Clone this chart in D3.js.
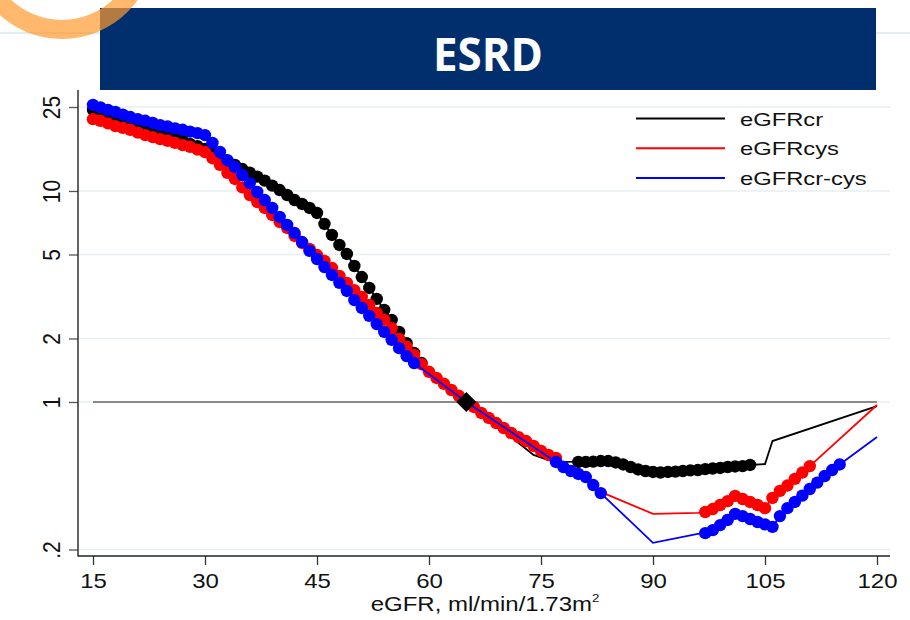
<!DOCTYPE html>
<html>
<head>
<meta charset="utf-8">
<script src="https://cdn.jsdelivr.net/npm/d3@7"></script>
<style>
  body { margin: 0; background: #fff; }
  svg text { font-family: "Liberation Sans", Arial, Helvetica, sans-serif; }
</style>
</head>
<body>
<div id="chart"></div>
<script>

// ---- data ----
var titleText = "ESRD";
var xLabel = "eGFR, ml/min/1.73m";
var seriesNames = ["eGFRcr", "eGFRcys", "eGFRcr-cys"];
var seriesColors = ["#000000", "#ff0000", "#0000ff"];
var xTicks = [15, 30, 45, 60, 75, 90, 105, 120];
var yTicks = [0.2, 1, 2, 5, 10, 25];
var yTickLabels = [".2", "1", "2", "5", "10", "25"];
var refPoint = [65, 1];

// [eGFR, hazard ratio, marker shown (1) or line only (0)]
var crPoints = [
  [15,24.2,1],[16,23.6,1],[17,22.9,1],[18,22.2,1],[19,21.6,1],[20,21.0,1],[21,20.4,1],[22,19.9,1],
  [23,19.2,1],[24,18.7,1],[25,18.2,1],[26,17.7,1],[27,17.3,1],[28,16.7,1],[29,16.3,1],[30,15.8,1],
  [31,15.1,1],[32,14.5,1],[33,13.9,1],[34,13.3,1],[35,12.7,1],[36,12.2,1],[37,11.7,1],[38,11.2,1],
  [39,10.6,1],[40,10.1,1],[41,9.57,1],[42,9.06,1],[43,8.68,1],[44,8.31,1],[45,7.87,1],[46,6.98,1],
  [47,6.19,1],[48,5.55,1],[49,5.03,1],[50,4.41,1],[51,3.91,1],[52,3.47,1],[53,3.08,1],[54,2.73,1],
  [55,2.45,1],[56,2.15,1],[57,1.90,1],[58,1.71,1],[59,1.53,1],
  [62,1.23,0],[65,1.00,0],[68,0.822,0],[70,0.729,0],[72,0.639,0],[74,0.561,0],[76,0.531,0],[78,0.522,0],
  [80,0.520,1],[81,0.520,1],[82,0.522,1],[83,0.525,1],[84,0.525,1],[85,0.517,1],[86,0.506,1],[87,0.492,1],
  [88,0.479,1],[89,0.471,1],[90,0.466,1],[91,0.463,1],[92,0.466,1],[93,0.468,1],[94,0.471,1],[95,0.474,1],
  [96,0.476,1],[97,0.481,1],[98,0.484,1],[99,0.487,1],[100,0.492,1],[101,0.495,1],[102,0.497,1],[103,0.503,1],
  [105,0.508,0],[106,0.653,0],[120,0.957,0]
];

var cysPoints = [
  [15,21.9,1],[16,21.5,1],[17,20.9,1],[18,20.3,1],[19,19.9,1],[20,19.5,1],[21,18.9,1],[22,18.4,1],
  [23,18.0,1],[24,17.6,1],[25,17.3,1],[26,16.9,1],[27,16.5,1],[28,16.2,1],[29,15.7,1],[30,15.3,1],
  [31,14.3,1],[32,13.3,1],[33,12.2,1],[34,11.4,1],[35,10.4,1],[36,9.57,1],[37,8.87,1],[38,8.31,1],
  [39,7.70,1],[40,7.13,1],[41,6.68,1],[42,6.12,1],[43,5.67,1],[44,5.31,1],[45,4.97,1],[46,4.66,1],
  [47,4.32,1],[48,3.96,1],[49,3.67,1],[50,3.39,1],[51,3.15,1],[52,2.88,1],[53,2.64,1],[54,2.45,1],
  [55,2.24,1],[56,1.99,1],[57,1.83,1],[58,1.67,1],[59,1.51,1],[60,1.39,1],[61,1.30,1],[62,1.22,1],
  [63,1.14,1],[64,1.07,1],[65,1.00,1],[66,0.947,1],[67,0.887,1],[68,0.840,1],[69,0.795,1],[70,0.753,1],
  [71,0.713,1],[72,0.682,1],[73,0.653,1],[74,0.619,1],[75,0.586,1],[76,0.561,1],[77,0.543,1],
  [83,0.375,0],[90,0.295,0],[96,0.298,0],
  [97,0.301,1],[98,0.311,1],[99,0.325,1],[100,0.339,1],[101,0.359,1],[102,0.347,1],[103,0.336,1],
  [104,0.325,1],[105,0.314,1],[106,0.351,1],[107,0.379,1],[108,0.402,1],[109,0.432,1],[110,0.463,1],
  [111,0.497,1],
  [120,0.968,0]
];

var crcysPoints = [
  [15,25.6,1],[16,24.9,1],[17,24.2,1],[18,23.7,1],[19,23.0,1],[20,22.4,1],[21,21.9,1],[22,21.5,1],
  [23,21.0,1],[24,20.5,1],[25,20.2,1],[26,19.8,1],[27,19.5,1],[28,19.1,1],[29,18.8,1],[30,18.4,1],
  [31,16.9,1],[32,15.3,1],[33,14.0,1],[34,13.0,1],[35,11.9,1],[36,10.9,1],[37,9.89,1],[38,9.06,1],
  [39,8.31,1],[40,7.53,1],[41,6.90,1],[42,6.32,1],[43,5.73,1],[44,5.20,1],[45,4.76,1],[46,4.36,1],
  [47,4.00,1],[48,3.67,1],[49,3.36,1],[50,3.04,1],[51,2.79,1],[52,2.56,1],[53,2.34,1],[54,2.15,1],
  [55,1.97,1],[56,1.80,1],[57,1.65,1],[58,1.53,1],
  [65,1.00,0],
  [77,0.520,1],[78,0.492,1],[79,0.471,1],[80,0.456,1],[81,0.441,1],[82,0.404,1],[83,0.370,1],
  [90,0.215,0],[96,0.237,0],
  [97,0.239,1],[98,0.247,1],[99,0.261,1],[100,0.276,1],[101,0.295,1],[102,0.288,1],[103,0.279,1],
  [104,0.270,1],[105,0.263,1],[106,0.256,1],[107,0.288,1],[108,0.314,1],[109,0.336,1],[110,0.360,1],
  [111,0.387,1],[112,0.415,1],[113,0.446,1],[114,0.476,1],[115,0.506,1],
  [120,0.682,0]
];

var allSeries = [crPoints, cysPoints, crcysPoints];

// ---- layout ----
var W = 910, H = 620;
var axisX = 78, axisY = 556;

var svg = d3.select("#chart").append("svg")
    .attr("width", W)
    .attr("height", H);

var x = d3.scaleLinear().domain([15, 120]).range([93, 877]);
var y = d3.scaleLog().domain([0.2, 25]).range([549.5, 107]);

// slide decoration + title banner
svg.append("line")
    .attr("x1", 0).attr("x2", W).attr("y1", 33).attr("y2", 33)
    .attr("stroke", "#e1edef").attr("stroke-width", 2);

svg.append("rect")
    .attr("x", 100).attr("y", 8)
    .attr("width", 776).attr("height", 82)
    .attr("fill", "#012f6e");

svg.append("text")
    .attr("x", 488).attr("y", 71)
    .attr("text-anchor", "middle")
    .attr("fill", "#fff")
    .style("font-family", "'Open Sans', 'Noto Sans', sans-serif")
    .style("font-weight", "bold")
    .style("font-size", "47px")
    .attr("textLength", 110)
    .attr("lengthAdjust", "spacingAndGlyphs")
    .text(titleText);

var ring = d3.arc().innerRadius(74).outerRadius(93).startAngle(0).endAngle(2 * Math.PI);
svg.append("path")
    .attr("d", ring())
    .attr("transform", "translate(62,-54)")
    .attr("fill", "#ff9a2e")
    .attr("opacity", 0.7);

// grid lines
svg.append("g").selectAll("line")
    .data(yTicks)
  .enter().append("line")
    .attr("x1", axisX + 1).attr("x2", 890)
    .attr("y1", function (d) { return y(d); })
    .attr("y2", function (d) { return y(d); })
    .attr("stroke", "#e7eef1")
    .attr("stroke-width", 1.5);

// reference line at HR = 1
svg.append("line")
    .attr("x1", x(15)).attr("x2", x(120))
    .attr("y1", y(1)).attr("y2", y(1))
    .attr("stroke", "#8a8a8a")
    .attr("stroke-width", 2);

// series
var line = d3.line()
    .x(function (d) { return x(d[0]); })
    .y(function (d) { return y(d[1]); });

allSeries.forEach(function (pts, i) {
  var g = svg.append("g");
  g.append("path")
      .datum(pts)
      .attr("d", line)
      .attr("fill", "none")
      .attr("stroke", seriesColors[i])
      .attr("stroke-width", 1.8);
  g.selectAll("circle")
      .data(pts.filter(function (d) { return d[2] === 1; }))
    .enter().append("circle")
      .attr("cx", function (d) { return x(d[0]); })
      .attr("cy", function (d) { return y(d[1]); })
      .attr("r", 6.2)
      .attr("fill", seriesColors[i]);
});

// reference diamond
svg.append("path")
    .attr("d", d3.symbol(d3.symbolSquare, 200)())
    .attr("transform", "translate(" + x(refPoint[0]) + "," + y(refPoint[1]) + ") rotate(45)")
    .attr("fill", "#000");

// axes
var xAxis = d3.axisBottom(x).tickValues(xTicks).tickSize(9).tickSizeOuter(0);
var gx = svg.append("g")
    .attr("transform", "translate(0," + axisY + ")")
    .call(xAxis);
gx.select(".domain").remove();
gx.selectAll(".tick line").attr("stroke", "#333").attr("stroke-width", 1.3);
gx.selectAll(".tick text")
    .attr("y", 32).attr("dy", null)
    .attr("fill", "#111")
    .style("font-size", "20px")
    .attr("transform", "scale(1.2,1)");

var yAxis = d3.axisLeft(y)
    .tickValues(yTicks)
    .tickFormat(function (d) { return yTickLabels[yTicks.indexOf(d)]; })
    .tickSize(9).tickSizeOuter(0);
var gy = svg.append("g")
    .attr("transform", "translate(" + axisX + ",0)")
    .call(yAxis);
gy.select(".domain").remove();
gy.selectAll(".tick line").attr("stroke", "#555").attr("stroke-width", 1.3);
gy.selectAll(".tick text")
    .attr("x", 0).attr("dy", null)
    .attr("text-anchor", "middle")
    .attr("fill", "#111")
    .style("font-size", "21px")
    .attr("transform", "translate(-18,0) rotate(-90) scale(1,1.1)");

svg.append("line")
    .attr("x1", axisX).attr("x2", axisX).attr("y1", 90).attr("y2", axisY + 0.5)
    .attr("stroke", "#222").attr("stroke-width", 1.4);
svg.append("line")
    .attr("x1", axisX).attr("x2", 890).attr("y1", axisY).attr("y2", axisY)
    .attr("stroke", "#222").attr("stroke-width", 1.4);

// x axis title
var xt = svg.append("text")
    .attr("text-anchor", "middle")
    .attr("transform", "translate(485,611) scale(1.2,1)")
    .attr("fill", "#111")
    .style("font-size", "20px");
xt.append("tspan").text(xLabel);
xt.append("tspan").attr("dy", -9).style("font-size", "11px").text("2");

// legend
var legend = svg.append("g").selectAll("g")
    .data(seriesNames)
  .enter().append("g")
    .attr("transform", function (d, i) { return "translate(0," + (118.5 + i * 29.7) + ")"; });
legend.append("line")
    .attr("x1", 636).attr("x2", 725)
    .attr("stroke", function (d, i) { return seriesColors[i]; })
    .attr("stroke-width", 2);
legend.append("text")
    .attr("transform", "translate(740,7) scale(1.25,1)")
    .attr("fill", "#111")
    .style("font-size", "19px")
    .text(function (d) { return d; });

</script>
</body>
</html>
